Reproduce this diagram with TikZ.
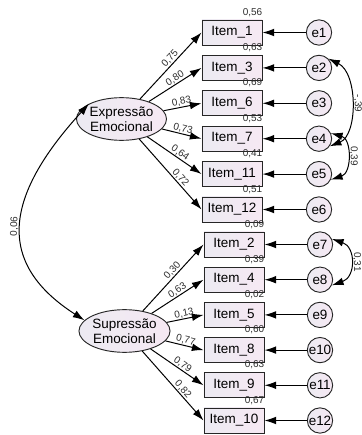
\documentclass[tikz,border=0pt]{standalone}
\usepackage{fontspec}
\setmainfont{Liberation Sans}
\usetikzlibrary{arrows.meta,shapes.geometric,positioning}
\definecolor{lavl}{RGB}{236,234,242}
\definecolor{lavr}{RGB}{246,233,243}
\definecolor{numgray}{RGB}{45,45,45}

\begin{document}
\begin{tikzpicture}[x=0.03cm,y=0.03cm,
  item/.style={draw=black!85, line width=0.8pt, minimum width=1.8cm, minimum height=0.75cm,
    inner sep=0pt, left color=lavl, right color=lavr, font=\fontsize{11.5}{13}\selectfont},
  err/.style={circle, draw=black!85, line width=0.8pt, minimum size=0.76cm, inner sep=0pt,
    left color=lavl, right color=lavr, font=\fontsize{11.5}{13}\selectfont},
  factor/.style={ellipse, draw=black!85, line width=0.8pt, minimum width=2.6cm, minimum height=1.28cm,
    inner sep=0pt, align=center, left color=lavl, right color=lavr, font=\fontsize{11.5}{12.5}\selectfont},
  arr/.style={-{Latex[length=3.5mm,width=2.3mm]}, line width=0.85pt},
  cov/.style={{Latex[length=3.5mm,width=2.3mm]}-{Latex[length=3.5mm,width=2.3mm]}, line width=0.85pt},
  lab/.style={font=\fontsize{8.5}{9}\selectfont, text=numgray, inner sep=0.5pt},
  rsq/.style={lab, anchor=south east, inner sep=0pt, yshift=2.5pt}]
\useasboundingbox (0,0) rectangle (362,435);

% latent factors
  \node[factor] (exp) at (121.5,316) {Expressão\\Emocional};
  \node[factor] (sup) at (124.5,104) {Supressão\\Emocional};

% items
  \node[item] (i1) at (232,402.5) {Item\_1};
  \node[item] (i3) at (232,367.1) {Item\_3};
  \node[item] (i6) at (232,331.7) {Item\_6};
  \node[item] (i7) at (232,296.3) {Item\_7};
  \node[item] (i11) at (232,260.9) {Item\_11};
  \node[item] (i12) at (232,225.5) {Item\_12};
  \node[item] (i2) at (234,190.5) {Item\_2};
  \node[item] (i4) at (234,155.3) {Item\_4};
  \node[item] (i5) at (234,120.1) {Item\_5};
  \node[item] (i8) at (234,84.9) {Item\_8};
  \node[item] (i9) at (234,49.7) {Item\_9};
  \node[item] (i10) at (234,14.5) {Item\_10};

% errors
  \node[err] (e1) at (319,402.5) {e1};
  \node[err] (e2) at (319,367.1) {e2};
  \node[err] (e3) at (319,331.7) {e3};
  \node[err] (e4) at (319,296.3) {e4};
  \node[err] (e5) at (319,260.9) {e5};
  \node[err] (e6) at (319,225.5) {e6};
  \node[err] (e7) at (320,190.5) {e7};
  \node[err] (e8) at (320,155.3) {e8};
  \node[err] (e9) at (320,120.1) {e9};
  \node[err] (e10) at (320,84.9) {e10};
  \node[err] (e11) at (320,49.7) {e11};
  \node[err] (e12) at (320,14.5) {e12};

% squared multiple correlations
  \node[rsq] (r1) at (i1.north east) {0,56};
  \node[rsq] (r3) at (i3.north east) {0,63};
  \node[rsq] (r6) at (i6.north east) {0,69};
  \node[rsq] (r7) at (i7.north east) {0,53};
  \node[rsq] (r11) at (i11.north east) {0,41};
  \node[rsq] (r12) at (i12.north east) {0,51};
  \node[rsq] (r2) at (i2.north east) {0,09};
  \node[rsq] (r4) at (i4.north east) {0,39};
  \node[rsq] (r5) at (i5.north east) {0,02};
  \node[rsq] (r8) at (i8.north east) {0,60};
  \node[rsq] (r9) at (i9.north east) {0,63};
  \node[rsq] (r10) at (i10.north east) {0,67};

% loadings
  \path [arr](exp) edge node[lab,sloped,above,pos=.55] {0,75} (i1.west);
  \path [arr](exp) edge node[lab,sloped,above,pos=.55] {0,80} (i3.west);
  \path [arr](exp) edge node[lab,sloped,above,pos=.5] {0,83} (i6.west);
  \path [arr](exp) edge node[lab,sloped,above,pos=.5] {0,73} (i7.west);
  \path [arr](exp) edge node[lab,sloped,above,pos=.55] {0,64} (i11.west);
  \path [arr](exp) edge node[lab,sloped,above,pos=.6] {0,72} (i12.west);
  \path [arr](sup) edge node[lab,sloped,above,pos=.55] {0,30} (i2.west);
  \path [arr](sup) edge node[lab,sloped,above,pos=.55] {0,63} (i4.west);
  \path [arr](sup) edge node[lab,sloped,above,pos=.5] {0,13} (i5.west);
  \path [arr](sup) edge node[lab,sloped,above,pos=.5] {0,77} (i8.west);
  \path [arr](sup) edge node[lab,sloped,above,pos=.55] {0,79} (i9.west);
  \path [arr](sup) edge node[lab,sloped,above,pos=.6] {0,82} (i10.west);

% error paths
  \path [arr](e1) edge (i1);
  \path [arr](e2) edge (i3);
  \path [arr](e3) edge (i6);
  \path [arr](e4) edge (i7);
  \path [arr](e5) edge (i11);
  \path [arr](e6) edge (i12);
  \path [arr](e7) edge (i2);
  \path [arr](e8) edge (i4);
  \path [arr](e9) edge (i5);
  \path [arr](e10) edge (i8);
  \path [arr](e11) edge (i9);
  \path [arr](e12) edge (i10);

% covariances
  \draw [cov](sup.165) .. controls (-3,171) and (2,236) .. (exp.155)
    node[lab,sloped,above,pos=.5,inner sep=2pt] {0,06};
  \draw [cov](e2.45) .. controls (358,362) and (358,300) .. (e4.-35)
    node[lab,sloped,above,pos=.5,inner sep=2pt] {-,39};
  \draw [cov](e4.25) .. controls (352,296) and (352,262) .. (e5.-25)
    node[lab,sloped,above,pos=.5,inner sep=2pt] {0,39};
  \draw [cov](e7.25) .. controls (356,188) and (356,158) .. (e8.-25)
    node[lab,sloped,above,pos=.5,inner sep=2pt] {0,31};
\end{tikzpicture}
\end{document}
